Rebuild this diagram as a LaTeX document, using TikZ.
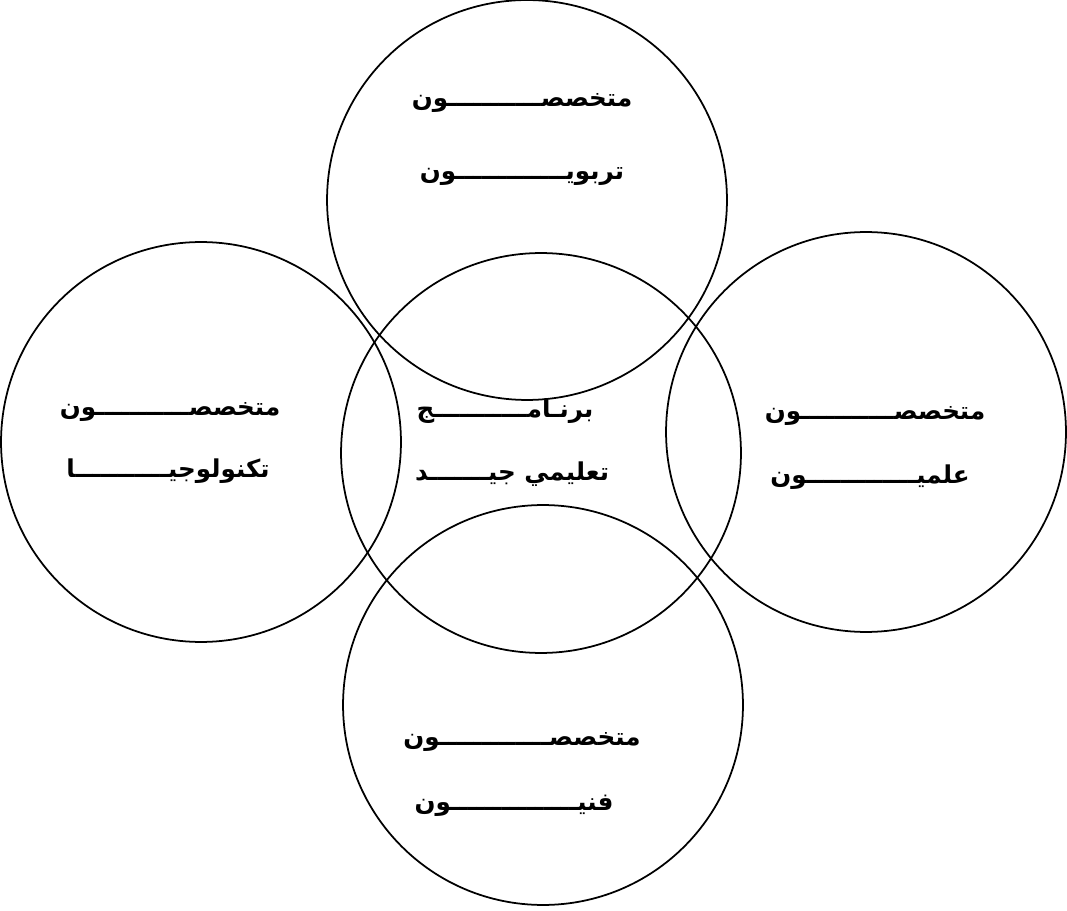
\documentclass[tikz,border=0pt]{standalone}
\usepackage{fontspec}
\newfontfamily\arabicfont[Script=Arabic]{DejaVu Sans}
\TeXXeTstate=1
\usetikzlibrary{positioning}
\tikzstyle{ring} = [circle, draw=black, line width=1pt, minimum size=8cm, inner sep=0pt]
\tikzstyle{label} = [anchor=base, font=\arabicfont\bfseries\fontsize{14}{16}\selectfont, inner sep=0pt]

\begin{document}
\begin{tikzpicture}[x=0.02cm, y=-0.02cm]
\useasboundingbox (0,0) rectangle (1067,911);
\node (top) [ring] at (527,200) {};
\node (left) [ring] at (201,442) {};
\node (mid) [ring] at (541,453) {};
\node (right) [ring] at (866,432) {};
\node (bottom) [ring] at (543,705) {};
% top circle
\node (topa) [label] at (522,107) {\beginR متخصصـــــــــــون\endR};
\node (topb) [label] at (522,180) {\beginR تربويـــــــــــــون\endR};
% left circle
\node (lefta) [label] at (170,416) {\beginR متخصصـــــــــــون\endR};
\node (leftb) [label] at (168,478) {\beginR تكنولوجيـــــــــــا\endR};
% middle circle
\node (mida) [label] at (505,418) {\beginR برنـامـــــــــــج\endR};
\node (midb) [label] at (512,480) {\beginR تعليمي جيـــــــد\endR};
% right circle
\node (righta) [label] at (875,420) {\beginR متخصصـــــــــــون\endR};
\node (rightb) [label] at (870,483) {\beginR علميـــــــــــــون\endR};
% bottom circle
\node (bottoma) [label] at (522,745) {\beginR متخصصـــــــــــــون\endR};
\node (bottomb) [label] at (514,810) {\beginR فنيـــــــــــــــون\endR};
\end{tikzpicture}
\end{document}
